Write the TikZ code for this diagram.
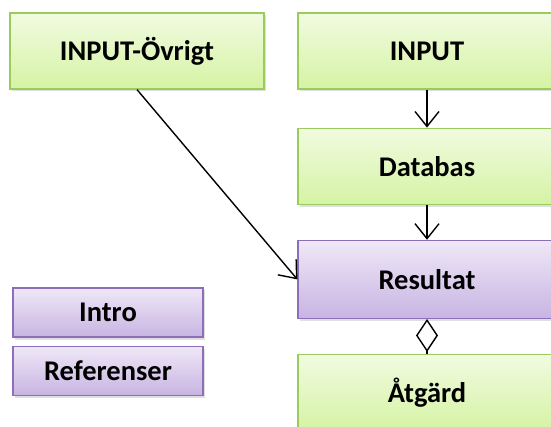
\documentclass[tikz,border=0pt]{standalone}
\usepackage{fontspec}
\setsansfont{Carlito}
\usepackage{tikz}
\usetikzlibrary{arrows.meta,positioning,shadows}
\definecolor{gnedge}{HTML}{9BCB5A}
\definecolor{gntop}{HTML}{F1FBE0}
\definecolor{gnbot}{HTML}{D5F3A4}
\definecolor{pledge}{HTML}{8C6FB8}
\definecolor{pltop}{HTML}{EFE8F7}
\definecolor{plbot}{HTML}{C8B4E2}

\begin{document}
\begin{tikzpicture}[x=1pt,y=1pt,
  node distance=35pt,
  green/.style={draw=gnedge,line width=1.2pt,top color=gntop,bottom color=gnbot,
              minimum width=254pt,minimum height=76pt,inner sep=0pt,
              font=\sffamily\bfseries\fontsize{28.5}{32}\selectfont,
              drop shadow={shadow xshift=1.5pt,shadow yshift=-2.5pt,opacity=.25}},
  purple/.style={green,draw=pledge,top color=pltop,bottom color=plbot},
  small/.style={purple,minimum width=190pt,minimum height=49pt},
  arrow/.style={-{Straight Barb[length=15pt,width=24pt]},draw=black,line width=1.4pt}]
\useasboundingbox (0,0) rectangle (551,-427);

\node[green,minimum width=254pt] (ovr) at (137,-51) {INPUT-\"Ovrigt};
\node[green,minimum width=258pt] (inp) at (427,-51) {INPUT};
\node[green,minimum width=258pt,below=38pt of inp] (db) {Databas};
\node[purple,minimum width=258pt,minimum height=78pt,below=of db] (res) {Resultat};
\node[green,minimum width=258pt,below=of res] (atg) {\AA tg\"ard};

\node[small] (intro) at (108,-312.5) {Intro};
\node[small,below=8pt of intro] (ref) {Referenser};

\draw[arrow] (inp) -- (db);
\draw[arrow] (db) -- (res);
\draw[arrow] (ovr.south) -- (res.west);
\draw[{Diamond[open,length=33pt,width=22pt]}-,line width=1.4pt] (res) -- (atg);
\end{tikzpicture}
\end{document}
